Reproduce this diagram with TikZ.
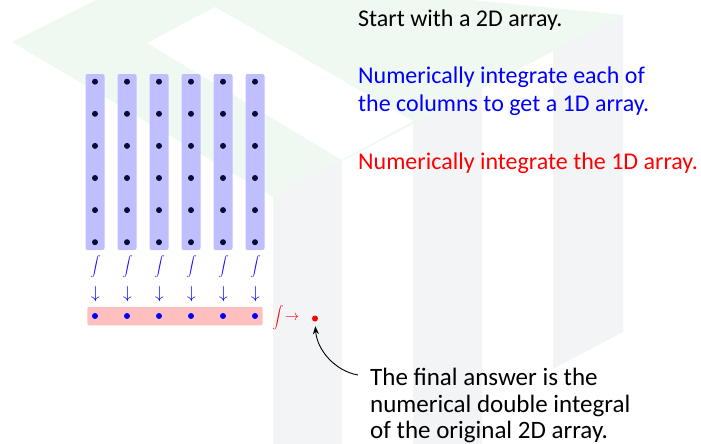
\documentclass[tikz,border=0pt]{standalone}
\usepackage{amsmath}
\usepackage{fontspec}
\setmainfont{Carlito}
\usetikzlibrary{positioning, arrows.meta}
\definecolor{colfill}{HTML}{BFBFFF}
\definecolor{rowfill}{HTML}{FFBFBF}
\definecolor{dotnavy}{HTML}{0B0B3B}
\definecolor{markgreen}{HTML}{F0F8F2}
\definecolor{markgray}{HTML}{F3F4F6}

\tikzset{
  colbox/.style={fill=colfill, rounded corners=2pt, minimum width=19pt,
                 minimum height=176pt, inner sep=0pt},
  rowbox/.style={fill=rowfill, rounded corners=2pt, minimum width=175.4pt,
                 minimum height=18.5pt, inner sep=0pt},
  pt/.style={circle, inner sep=0pt, minimum size=6pt},
  intsign/.style={inner sep=0pt, font=\fontsize{10.3}{12}\selectfont},
  steptext/.style={font=\fontsize{24}{28.5}\selectfont, align=left,
                   anchor=base west, inner sep=0pt},
}

\begin{document}
\begin{tikzpicture}[x=1pt, y=-1pt]
  \useasboundingbox (0,0) rectangle (701,444);
  % faint logo behind everything
  \fill[markgreen] (12,42) -- (96,0) -- (472,0) -- (623,15) -- (273,197) -- cycle;
  \fill[white] (147,43) -- (215,7) -- (413,121) -- (342,160) -- cycle;
  \fill[markgray] (273,197) -- (342,160) -- (342,444) -- (273,444) -- cycle;
  \fill[markgray] (413,124) -- (482,88) -- (482,444) -- (413,444) -- cycle;
  \fill[markgray] (553,51) -- (623,15) -- (623,332) -- (553,369) -- cycle;

  % the 2D array, one column at a time
  \foreach \i in {0,...,5} {
    \node[colbox] (col\i) at (95+32*\i, 162) {};
    \foreach \j in {0,...,5}
      \node[pt, fill=dotnavy] (dot\i\j) at (95+32*\i, 81.7+32.1*\j) {};
    \node[intsign, text=blue] (int\i) at (95.5+32*\i, 266.5) {$\displaystyle\int$};
    \node[inner sep=0pt, text=blue, font=\fontsize{18}{20}\selectfont]
      (down\i) at (95.5+32*\i, 294.5) {$\downarrow$};
  }

  % the 1D array
  \node[rowbox] (row) at (175,316) {};
  \foreach \i in {0,...,5}
    \node[pt, fill=blue] (cell\i) at (95+32*\i, 316) {};

  % final step
  \node[intsign, text=red, font=\fontsize{11.2}{13}\selectfont] (rint) at (278,317.3) {$\displaystyle\int$};
  \node[inner sep=0pt, text=red, font=\fontsize{14}{16}\selectfont] (rarr) at (292,318.3) {$\rightarrow$};
  \node[pt, fill=red] (ans) at (315,318.5) {};

  % texts
  \node[steptext] (start) at (358,26.7) {Start with a 2D array.};
  \node[steptext, text=blue] (colstep) at (358,111.7)
    {Numerically integrate each of\\the columns to get a 1D array.};
  \node[steptext, text=red] (rowstep) at (358,169.3) {Numerically integrate the 1D array.};
  \node[steptext, font=\fontsize{25}{26.3}\selectfont] (note) at (370,438.3)
    {The final answer is the\\numerical double integral\\of the original 2D array.};

  \coordinate (tail) at (358,375);
  \draw[-{Stealth[length=8pt, width=6pt]}, line width=0.9pt, shorten >=4.5pt]
    (tail) .. controls (335,371) and (317,350) .. (ans.south);
\end{tikzpicture}
\end{document}
